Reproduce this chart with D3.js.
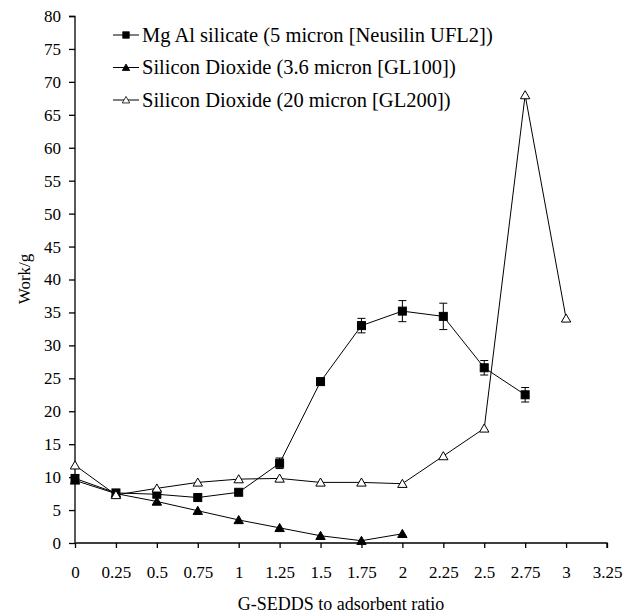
<!DOCTYPE html>
<html>
<head>
<meta charset="utf-8">
<script src="https://cdn.jsdelivr.net/npm/d3@7"></script>
<style>
  body { margin: 0; background: #fff; }
</style>
</head>
<body>
<svg id="chart" width="624" height="614"></svg>
<script>
// ratios (x axis)
const ratios = [0, 0.25, 0.5, 0.75, 1, 1.25, 1.5, 1.75, 2, 2.25, 2.5, 2.75, 3];

// Mg Al silicate (5 micron [Neusilin UFL2])
const mgAl = [9.8, 7.6, 7.4, 6.9, 7.7, 12.1, 24.5, 33.0, 35.2, 34.4, 26.6, 22.5];
const mgAlErr = [0.6, 0.3, 0.3, 0.3, 0.3, 0.8, 0.4, 1.1, 1.6, 2.0, 1.1, 1.1];

// Silicon Dioxide (3.6 micron [GL100])
const gl100 = [9.5, 7.5, 6.3, 4.9, 3.5, 2.3, 1.1, 0.35, 1.4];

// Silicon Dioxide (20 micron [GL200])
const gl200 = [11.8, 7.3, 8.3, 9.2, 9.7, 9.8, 9.2, 9.2, 9.0, 13.2, 17.4, 68.0, 34.1];

const xTicks = [0, 0.25, 0.5, 0.75, 1, 1.25, 1.5, 1.75, 2, 2.25, 2.5, 2.75, 3, 3.25];
const yTicks = d3.range(0, 81, 5);

const legendLabels = [
  "Mg Al silicate (5 micron [Neusilin UFL2])",
  "Silicon Dioxide (3.6 micron [GL100])",
  "Silicon Dioxide (20 micron [GL200])"
];

const FONT = "'Liberation Serif', 'Times New Roman', Times, serif";

const svg = d3.select("#chart");
const margin = { left: 75, top: 16, right: 17, bottom: 71 };
const width = 624 - margin.left - margin.right;
const height = 614 - margin.top - margin.bottom;

const x = d3.scaleLinear().domain([0, 3.25]).range([0, width]);
const y = d3.scaleLinear().domain([0, 80]).range([height, 0]);

const g = svg.append("g").attr("transform", `translate(${margin.left},${margin.top})`);

// axes
const xAxis = g.append("g")
  .attr("transform", `translate(0,${height})`)
  .call(d3.axisBottom(x).tickValues(xTicks).tickSize(5).tickPadding(18).tickFormat(d => d));
const yAxis = g.append("g")
  .call(d3.axisLeft(y).tickValues(yTicks).tickSize(6).tickPadding(8));

[xAxis, yAxis].forEach(a => {
  a.attr("font-family", FONT).attr("font-size", 17);
  a.select(".domain").attr("stroke", "#000").attr("stroke-width", 1.3);
  a.selectAll(".tick line").attr("stroke", "#000").attr("stroke-width", 1.3);
  a.selectAll("text").attr("fill", "#000");
});
xAxis.select(".domain").attr("d", `M0.5,0H${width}V5`);
yAxis.select(".domain").attr("d", `M0,${height}V0.5H-6`);

// axis titles
svg.append("text")
  .attr("x", 341)
  .attr("y", 610)
  .attr("text-anchor", "middle")
  .attr("font-family", FONT).attr("font-size", 18)
  .text("G-SEDDS to adsorbent ratio");

svg.append("text")
  .attr("transform", "translate(30,279) rotate(-90)")
  .attr("text-anchor", "middle")
  .attr("font-family", FONT).attr("font-size", 17)
  .text("Work/g");

const line = d3.line().x(d => x(d[0])).y(d => y(d[1]));

const series = [
  { vals: mgAl, marker: "square", fill: "#000" },
  { vals: gl100, marker: "triangle", fill: "#000" },
  { vals: gl200, marker: "triangle", fill: "#fff" }
];

function drawMarker(sel, m, fill) {
  if (m === "square") {
    sel.append("rect")
      .attr("x", -4).attr("y", -4).attr("width", 8).attr("height", 8)
      .attr("fill", fill).attr("stroke", "#000").attr("stroke-width", 1);
  } else {
    sel.append("path")
      .attr("d", d3.symbol(d3.symbolTriangle, 38)())
      .attr("transform", "translate(0,1)")
      .attr("fill", fill).attr("stroke", "#000").attr("stroke-width", 1);
  }
}

// error bars for Mg Al silicate
const errG = g.append("g");
mgAl.forEach((v, i) => {
  const e = mgAlErr[i];
  const cx = x(ratios[i]);
  errG.append("line").attr("x1", cx).attr("x2", cx).attr("y1", y(v - e)).attr("y2", y(v + e))
    .attr("stroke", "#000").attr("stroke-width", 1);
  [v - e, v + e].forEach(t => errG.append("line")
    .attr("x1", cx - 4).attr("x2", cx + 4).attr("y1", y(t)).attr("y2", y(t))
    .attr("stroke", "#000").attr("stroke-width", 1));
});

// lines (draw open-triangle series last so its markers sit on top)
const order = [1, 0, 2];
order.forEach(si => {
  const s = series[si];
  const pts = s.vals.map((v, i) => [ratios[i], v]);
  g.append("path").datum(pts).attr("d", line)
    .attr("fill", "none").attr("stroke", "#000").attr("stroke-width", 1);
});
order.forEach(si => {
  const s = series[si];
  const pts = s.vals.map((v, i) => [ratios[i], v]);
  g.append("g").selectAll("g").data(pts).join("g")
    .attr("transform", d => `translate(${x(d[0])},${y(d[1])})`)
    .each(function() { drawMarker(d3.select(this), s.marker, s.fill); });
});

// legend
const legend = svg.append("g").attr("transform", "translate(113,35)");
legendLabels.forEach((lab, i) => {
  const row = legend.append("g").attr("transform", `translate(0,${i * 32.5})`);
  row.append("line").attr("x1", 0).attr("x2", 26).attr("y1", 0).attr("y2", 0)
    .attr("stroke", "#000").attr("stroke-width", 1);
  const mk = row.append("g").attr("transform", "translate(13,0) scale(0.8)");
  drawMarker(mk, series[i].marker, series[i].fill);
  row.append("text").attr("x", 29).attr("y", 6.5)
    .attr("font-family", FONT).attr("font-size", 20.5).text(lab);
});
</script>
</body>
</html>
